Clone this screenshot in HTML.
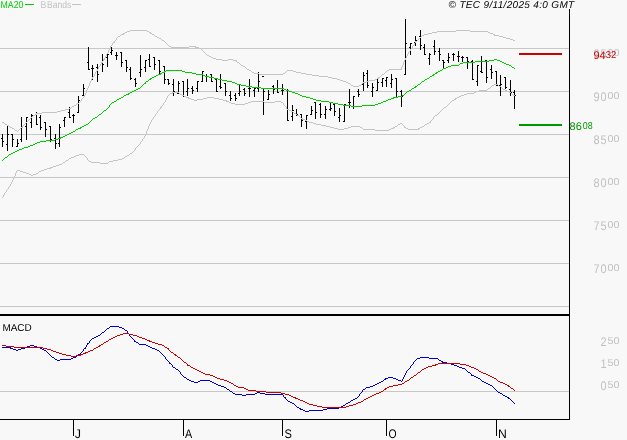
<!DOCTYPE html>
<html><head><meta charset="utf-8"><title>Chart</title>
<style>
html,body{margin:0;padding:0;background:#f8f8f8;}
body{width:627px;height:440px;overflow:hidden;}
svg{display:block;font-family:"Liberation Sans",sans-serif;text-rendering:geometricPrecision;}
</style></head><body>
<svg width="627" height="440" viewBox="0 0 627 440" shape-rendering="crispEdges">
<rect width="627" height="440" fill="#f8f8f8"/>

<rect x="0" y="48" width="569" height="1" fill="#c8c8c8"/>
<rect x="0" y="91" width="569" height="1" fill="#c8c8c8"/>
<rect x="0" y="134" width="569" height="1" fill="#c8c8c8"/>
<rect x="0" y="177" width="569" height="1" fill="#c8c8c8"/>
<rect x="0" y="220" width="569" height="1" fill="#c8c8c8"/>
<rect x="0" y="263" width="569" height="1" fill="#c8c8c8"/>
<rect x="0" y="306" width="569" height="1" fill="#c8c8c8"/>
<rect x="0" y="391" width="569" height="1" fill="#c8c8c8"/>
<path fill="#000" d="M2 134v13h1v-13zM1 138h1v1h-1zM3 141h1v1h-1zM7 125v26h1v-26zM6 144h1v1h-1zM8 134h1v1h-1zM12 134v13h1v-13zM11 134h1v1h-1zM13 139h1v1h-1zM17 139v8h1v-8zM16 146h1v1h-1zM18 143h1v1h-1zM21 117v25h1v-25zM20 139h1v1h-1zM22 127h1v1h-1zM26 117v23h1v-23zM25 126h1v1h-1zM27 117h1v1h-1zM31 114v14h1v-14zM30 122h1v1h-1zM32 115h1v1h-1zM36 112v13h1v-13zM35 114h1v1h-1zM37 124h1v1h-1zM40 115v15h1v-15zM39 117h1v1h-1zM41 127h1v1h-1zM45 122v15h1v-15zM44 122h1v1h-1zM46 129h1v1h-1zM50 126v16h1v-16zM49 126h1v1h-1zM51 139h1v1h-1zM55 134v15h1v-15zM54 138h1v1h-1zM56 143h1v1h-1zM59 124v23h1v-23zM58 143h1v1h-1zM60 127h1v1h-1zM64 117v10h1v-10zM63 120h1v1h-1zM65 117h1v1h-1zM69 107v11h1v-11zM68 112h1v1h-1zM70 117h1v1h-1zM73 114v9h1v-9zM72 115h1v1h-1zM74 115h1v1h-1zM78 96v17h1v-17zM77 112h1v1h-1zM79 100h1v1h-1zM83 84v12h1v-12zM82 95h1v1h-1zM84 88h1v1h-1zM88 47v23h1v-23zM87 62h1v1h-1zM89 69h1v1h-1zM92 65v15h1v-15zM91 68h1v1h-1zM93 68h1v1h-1zM97 64v18h1v-18zM96 67h1v1h-1zM98 74h1v1h-1zM102 54v18h1v-18zM101 63h1v1h-1zM103 64h1v1h-1zM107 54v13h1v-13zM106 57h1v1h-1zM108 54h1v1h-1zM111 47v8h1v-8zM110 52h1v1h-1zM112 50h1v1h-1zM116 52v8h1v-8zM115 55h1v1h-1zM117 55h1v1h-1zM121 52v15h1v-15zM120 52h1v1h-1zM122 62h1v1h-1zM126 60v12h1v-12zM125 60h1v1h-1zM127 67h1v1h-1zM130 67v13h1v-13zM129 69h1v1h-1zM131 78h1v1h-1zM135 78v9h1v-9zM134 79h1v1h-1zM136 83h1v1h-1zM140 55v22h1v-22zM139 72h1v1h-1zM141 69h1v1h-1zM145 60v12h1v-12zM144 67h1v1h-1zM146 60h1v1h-1zM149 54v13h1v-13zM148 59h1v1h-1zM150 66h1v1h-1zM154 57v13h1v-13zM153 57h1v1h-1zM155 64h1v1h-1zM159 60v14h1v-14zM158 60h1v1h-1zM160 71h1v1h-1zM164 66v18h1v-18zM163 66h1v1h-1zM165 79h1v1h-1zM168 79v6h1v-6zM167 79h1v1h-1zM169 83h1v1h-1zM173 79v17h1v-17zM172 84h1v1h-1zM174 91h1v1h-1zM178 81v13h1v-13zM177 93h1v1h-1zM179 83h1v1h-1zM183 81v16h1v-16zM182 81h1v1h-1zM184 96h1v1h-1zM187 79v17h1v-17zM186 91h1v1h-1zM188 88h1v1h-1zM192 86v8h1v-8zM191 88h1v1h-1zM193 90h1v1h-1zM197 81v11h1v-11zM196 88h1v1h-1zM198 81h1v1h-1zM202 71v11h1v-11zM201 81h1v1h-1zM203 71h1v1h-1zM206 74v8h1v-8zM205 76h1v1h-1zM207 76h1v1h-1zM211 74v8h1v-8zM210 74h1v1h-1zM212 81h1v1h-1zM216 79v13h1v-13zM215 79h1v1h-1zM217 91h1v1h-1zM220 74v15h1v-15zM219 86h1v1h-1zM221 87h1v1h-1zM225 83v13h1v-13zM224 83h1v1h-1zM226 91h1v1h-1zM230 91v10h1v-10zM229 95h1v1h-1zM231 98h1v1h-1zM235 93v8h1v-8zM234 95h1v1h-1zM236 98h1v1h-1zM239 85v11h1v-11zM238 93h1v1h-1zM240 91h1v1h-1zM244 88v8h1v-8zM243 89h1v1h-1zM245 93h1v1h-1zM249 79v18h1v-18zM248 88h1v1h-1zM250 88h1v1h-1zM254 88v9h1v-9zM253 90h1v1h-1zM255 88h1v1h-1zM258 72v20h1v-20zM257 88h1v1h-1zM259 81h1v1h-1zM263 89v26h1v-26zM262 76h2v1h-2zM264 91h1v1h-1zM268 90v10h1v-10zM267 99h1v1h-1zM269 94h1v1h-1zM273 85v9h1v-9zM272 86h1v1h-1zM274 89h1v1h-1zM277 80v13h1v-13zM276 88h1v1h-1zM278 92h1v1h-1zM282 84v11h1v-11zM281 90h1v1h-1zM283 90h1v1h-1zM287 89v32h1v-32zM286 90h1v1h-1zM288 120h1v1h-1zM292 105v16h1v-16zM291 116h1v1h-1zM293 110h1v1h-1zM296 109v7h1v-7zM295 113h1v1h-1zM297 114h1v1h-1zM301 114v13h1v-13zM300 114h1v1h-1zM302 120h1v1h-1zM306 115v14h1v-14zM305 121h1v1h-1zM307 115h1v1h-1zM311 106v9h1v-9zM310 114h1v1h-1zM312 110h1v1h-1zM315 102v17h1v-17zM314 102h1v1h-1zM316 112h1v1h-1zM320 103v15h1v-15zM319 104h1v1h-1zM321 114h1v1h-1zM325 106v13h1v-13zM324 114h1v1h-1zM326 109h1v1h-1zM330 102v9h1v-9zM329 109h1v1h-1zM331 108h1v1h-1zM334 104v12h1v-12zM333 104h1v1h-1zM335 111h1v1h-1zM339 108v14h1v-14zM338 117h1v1h-1zM340 115h1v1h-1zM344 104v18h1v-18zM343 121h1v1h-1zM345 104h1v1h-1zM349 89v19h1v-19zM348 102h1v1h-1zM350 102h1v1h-1zM353 96v13h1v-13zM352 106h1v1h-1zM354 96h1v1h-1zM358 89v8h1v-8zM357 91h1v1h-1zM359 94h1v1h-1zM363 72v19h1v-19zM362 84h1v1h-1zM364 75h1v1h-1zM367 70v18h1v-18zM366 73h1v1h-1zM368 85h1v1h-1zM372 83v14h1v-14zM371 91h1v1h-1zM373 87h1v1h-1zM377 78v13h1v-13zM376 90h1v1h-1zM378 82h1v1h-1zM382 78v9h1v-9zM381 82h1v1h-1zM383 78h1v1h-1zM386 77v10h1v-10zM385 80h1v1h-1zM387 77h1v1h-1zM391 74v14h1v-14zM390 83h1v1h-1zM392 79h1v1h-1zM396 78v19h1v-19zM395 78h1v1h-1zM397 91h1v1h-1zM401 90v17h1v-17zM400 91h1v1h-1zM402 96h1v1h-1zM405 19v56h1v-56zM404 74h1v1h-1zM406 43h1v1h-1zM410 43v12h1v-12zM409 47h1v1h-1zM411 43h1v1h-1zM415 36v10h1v-10zM414 42h1v1h-1zM416 40h1v1h-1zM420 30v20h1v-20zM419 36h1v1h-1zM421 45h1v1h-1zM424 44v11h1v-11zM423 47h1v1h-1zM425 54h1v1h-1zM429 53v12h1v-12zM428 58h1v1h-1zM430 54h1v1h-1zM434 40v15h1v-15zM433 46h1v1h-1zM435 51h1v1h-1zM439 48v13h1v-13zM438 51h1v1h-1zM440 54h1v1h-1zM443 60v9h1v-9zM442 60h1v1h-1zM444 62h1v1h-1zM448 53v10h1v-10zM447 60h1v1h-1zM449 57h1v1h-1zM453 53v8h1v-8zM452 54h1v1h-1zM454 54h1v1h-1zM458 51v11h1v-11zM457 56h1v1h-1zM459 56h1v1h-1zM462 56v6h1v-6zM461 57h1v1h-1zM463 57h1v1h-1zM467 57v12h1v-12zM466 57h1v1h-1zM468 61h1v1h-1zM472 60v20h1v-20zM471 61h1v1h-1zM473 79h1v1h-1zM477 65v21h1v-21zM476 81h1v1h-1zM478 65h1v1h-1zM481 56v17h1v-17zM480 71h1v1h-1zM482 72h1v1h-1zM486 60v23h1v-23zM485 60h1v1h-1zM487 77h1v1h-1zM491 65v14h1v-14zM490 69h1v1h-1zM492 72h1v1h-1zM496 71v15h1v-15zM495 71h1v1h-1zM497 85h1v1h-1zM500 75v21h1v-21zM499 85h1v1h-1zM501 84h1v1h-1zM505 77v12h1v-12zM504 77h1v1h-1zM506 87h1v1h-1zM510 80v16h1v-16zM509 89h1v1h-1zM511 92h1v1h-1zM514 90v19h1v-19zM513 92h1v1h-1zM515 95h1v1h-1z"/>
<path fill="#c4c4c4" d="M130 30h17v1h-17zM456 30h14v1h-14zM127 31h3v1h-3zM147 31h2v1h-2zM437 31h19v1h-19zM470 31h18v1h-18zM125 32h2v1h-2zM149 32h2v1h-2zM432 32h5v1h-5zM488 32h2v1h-2zM123 33h2v1h-2zM150 33h2v1h-2zM428 33h4v1h-4zM490 33h3v1h-3zM121 34h3v1h-3zM152 34h2v1h-2zM424 34h4v1h-4zM493 34h2v1h-2zM120 35h1v1h-1zM154 35h1v1h-1zM422 35h2v1h-2zM494 35h5v1h-5zM118 36h2v1h-2zM155 36h2v1h-2zM421 36h1v1h-1zM499 36h4v1h-4zM117 37h1v1h-1zM157 37h2v1h-2zM420 37h1v1h-1zM503 37h3v1h-3zM116 38h1v1h-1zM159 38h2v1h-2zM419 38h1v1h-1zM506 38h4v1h-4zM116 39h1v1h-1zM161 39h1v1h-1zM418 39h1v1h-1zM510 39h3v1h-3zM115 40h1v1h-1zM162 40h2v1h-2zM417 40h1v1h-1zM513 40h2v1h-2zM114 41h1v1h-1zM164 41h1v1h-1zM415 41h2v1h-2zM113 42h2v1h-2zM165 42h1v1h-1zM415 42h1v1h-1zM112 43h1v1h-1zM166 43h1v1h-1zM414 43h1v1h-1zM112 44h1v1h-1zM167 44h1v1h-1zM414 44h1v1h-1zM111 45h1v1h-1zM168 45h1v1h-1zM413 45h1v1h-1zM110 46h1v1h-1zM169 46h2v1h-2zM189 46h7v1h-7zM412 46h1v1h-1zM110 47h1v1h-1zM171 47h18v1h-18zM195 47h4v1h-4zM412 47h1v1h-1zM109 48h1v1h-1zM181 48h1v1h-1zM199 48h2v1h-2zM411 48h1v1h-1zM109 49h1v1h-1zM201 49h1v1h-1zM410 49h1v1h-1zM108 50h1v1h-1zM202 50h1v1h-1zM410 50h1v1h-1zM108 51h1v1h-1zM203 51h1v1h-1zM409 51h1v1h-1zM108 52h1v1h-1zM204 52h1v1h-1zM408 52h1v1h-1zM107 53h1v1h-1zM205 53h1v1h-1zM408 53h1v1h-1zM106 54h1v1h-1zM206 54h1v1h-1zM407 54h1v1h-1zM106 55h1v1h-1zM207 55h2v1h-2zM407 55h1v1h-1zM105 56h1v1h-1zM209 56h2v1h-2zM406 56h1v1h-1zM105 57h1v1h-1zM211 57h2v1h-2zM406 57h1v1h-1zM104 58h1v1h-1zM213 58h3v1h-3zM405 58h1v1h-1zM103 59h2v1h-2zM216 59h6v1h-6zM228 59h5v1h-5zM405 59h1v1h-1zM103 60h1v1h-1zM222 60h6v1h-6zM233 60h4v1h-4zM404 60h1v1h-1zM102 61h1v1h-1zM236 61h1v1h-1zM404 61h1v1h-1zM101 62h2v1h-2zM237 62h2v1h-2zM403 62h1v1h-1zM101 63h1v1h-1zM239 63h1v1h-1zM403 63h1v1h-1zM100 64h1v1h-1zM240 64h1v1h-1zM403 64h1v1h-1zM100 65h1v1h-1zM241 65h2v1h-2zM402 65h1v1h-1zM99 66h1v1h-1zM243 66h2v1h-2zM402 66h1v1h-1zM98 67h1v1h-1zM245 67h1v1h-1zM401 67h1v1h-1zM98 68h1v1h-1zM246 68h1v1h-1zM401 68h1v1h-1zM97 69h1v1h-1zM247 69h2v1h-2zM389 69h13v1h-13zM97 70h1v1h-1zM249 70h2v1h-2zM287 70h6v1h-6zM387 70h2v1h-2zM96 71h1v1h-1zM251 71h1v1h-1zM286 71h1v1h-1zM293 71h3v1h-3zM386 71h1v1h-1zM95 72h1v1h-1zM252 72h2v1h-2zM285 72h1v1h-1zM296 72h5v1h-5zM385 72h1v1h-1zM95 73h1v1h-1zM254 73h5v1h-5zM283 73h2v1h-2zM301 73h5v1h-5zM384 73h1v1h-1zM94 74h1v1h-1zM259 74h24v1h-24zM306 74h6v1h-6zM382 74h2v1h-2zM94 75h1v1h-1zM312 75h7v1h-7zM381 75h1v1h-1zM93 76h1v1h-1zM319 76h9v1h-9zM380 76h1v1h-1zM92 77h1v1h-1zM328 77h4v1h-4zM378 77h2v1h-2zM92 78h1v1h-1zM332 78h5v1h-5zM377 78h2v1h-2zM91 79h1v1h-1zM337 79h3v1h-3zM375 79h2v1h-2zM91 80h1v1h-1zM340 80h3v1h-3zM369 80h6v1h-6zM90 81h1v1h-1zM343 81h3v1h-3zM366 81h3v1h-3zM90 82h1v1h-1zM346 82h2v1h-2zM363 82h3v1h-3zM89 83h1v1h-1zM348 83h2v1h-2zM362 83h1v1h-1zM89 84h1v1h-1zM350 84h1v1h-1zM361 84h1v1h-1zM89 85h1v1h-1zM351 85h2v1h-2zM359 85h2v1h-2zM88 86h1v1h-1zM353 86h6v1h-6zM88 87h1v1h-1zM87 88h1v1h-1zM87 89h1v1h-1zM86 90h1v1h-1zM86 91h1v1h-1zM86 92h1v1h-1zM85 93h1v1h-1zM85 94h1v1h-1zM84 95h1v1h-1zM84 96h1v1h-1zM83 97h1v1h-1zM82 98h1v1h-1zM81 99h1v1h-1zM81 100h1v1h-1zM80 101h1v1h-1zM79 102h1v1h-1zM77 103h2v1h-2zM76 104h1v1h-1zM74 105h2v1h-2zM72 106h2v1h-2zM71 107h1v1h-1zM69 108h2v1h-2zM65 109h4v1h-4zM61 110h4v1h-4zM57 111h4v1h-4zM42 112h15v1h-15zM36 113h6v1h-6zM35 114h2v1h-2zM33 115h2v1h-2zM32 116h1v1h-1zM31 117h1v1h-1zM30 118h1v1h-1zM29 119h1v1h-1zM28 120h1v1h-1zM27 121h1v1h-1zM2 122h2v1h-2zM26 122h1v1h-1zM4 123h1v1h-1zM25 123h1v1h-1zM5 124h2v1h-2zM24 124h1v1h-1zM7 125h2v1h-2zM23 125h1v1h-1zM9 126h1v1h-1zM22 126h1v1h-1zM10 127h2v1h-2zM21 127h2v1h-2zM12 128h2v1h-2zM20 128h1v1h-1zM14 129h1v1h-1zM19 129h1v1h-1zM15 130h2v1h-2zM18 130h1v1h-1zM17 131h1v1h-1z"/>
<path fill="#c4c4c4" d="M494 84h4v1h-4zM492 85h2v1h-2zM498 85h1v1h-1zM491 86h1v1h-1zM499 86h2v1h-2zM490 87h1v1h-1zM501 87h1v1h-1zM488 88h2v1h-2zM502 88h1v1h-1zM487 89h1v1h-1zM503 89h2v1h-2zM479 90h8v1h-8zM505 90h2v1h-2zM476 91h3v1h-3zM507 91h2v1h-2zM172 92h7v1h-7zM474 92h2v1h-2zM509 92h2v1h-2zM170 93h3v1h-3zM179 93h1v1h-1zM467 93h7v1h-7zM511 93h1v1h-1zM169 94h1v1h-1zM180 94h2v1h-2zM464 94h3v1h-3zM512 94h1v1h-1zM168 95h1v1h-1zM182 95h2v1h-2zM461 95h3v1h-3zM513 95h2v1h-2zM167 96h1v1h-1zM184 96h2v1h-2zM459 96h2v1h-2zM167 97h1v1h-1zM186 97h3v1h-3zM207 97h7v1h-7zM457 97h2v1h-2zM166 98h1v1h-1zM188 98h3v1h-3zM203 98h4v1h-4zM214 98h5v1h-5zM455 98h2v1h-2zM166 99h1v1h-1zM191 99h3v1h-3zM197 99h6v1h-6zM219 99h4v1h-4zM454 99h2v1h-2zM165 100h1v1h-1zM194 100h3v1h-3zM223 100h4v1h-4zM452 100h2v1h-2zM165 101h1v1h-1zM226 101h3v1h-3zM251 101h13v1h-13zM275 101h6v1h-6zM451 101h1v1h-1zM164 102h1v1h-1zM229 102h2v1h-2zM248 102h3v1h-3zM264 102h11v1h-11zM281 102h2v1h-2zM450 102h1v1h-1zM163 103h1v1h-1zM231 103h4v1h-4zM245 103h3v1h-3zM283 103h1v1h-1zM449 103h1v1h-1zM163 104h1v1h-1zM235 104h10v1h-10zM283 104h1v1h-1zM448 104h1v1h-1zM162 105h1v1h-1zM284 105h1v1h-1zM447 105h1v1h-1zM161 106h1v1h-1zM285 106h1v1h-1zM446 106h1v1h-1zM160 107h2v1h-2zM286 107h1v1h-1zM444 107h2v1h-2zM160 108h1v1h-1zM286 108h1v1h-1zM443 108h1v1h-1zM159 109h1v1h-1zM287 109h2v1h-2zM442 109h1v1h-1zM158 110h1v1h-1zM289 110h2v1h-2zM441 110h1v1h-1zM157 111h1v1h-1zM291 111h2v1h-2zM440 111h1v1h-1zM157 112h1v1h-1zM293 112h1v1h-1zM439 112h1v1h-1zM156 113h1v1h-1zM294 113h2v1h-2zM438 113h1v1h-1zM155 114h1v1h-1zM296 114h1v1h-1zM437 114h1v1h-1zM155 115h1v1h-1zM297 115h2v1h-2zM435 115h2v1h-2zM154 116h1v1h-1zM299 116h1v1h-1zM434 116h1v1h-1zM153 117h1v1h-1zM300 117h1v1h-1zM433 117h1v1h-1zM153 118h1v1h-1zM301 118h2v1h-2zM433 118h1v1h-1zM152 119h1v1h-1zM302 119h3v1h-3zM432 119h1v1h-1zM151 120h1v1h-1zM305 120h2v1h-2zM431 120h1v1h-1zM151 121h1v1h-1zM307 121h2v1h-2zM430 121h1v1h-1zM150 122h1v1h-1zM309 122h4v1h-4zM429 122h2v1h-2zM150 123h1v1h-1zM313 123h3v1h-3zM400 123h2v1h-2zM427 123h2v1h-2zM149 124h1v1h-1zM316 124h5v1h-5zM398 124h2v1h-2zM402 124h1v1h-1zM425 124h2v1h-2zM149 125h1v1h-1zM321 125h5v1h-5zM397 125h1v1h-1zM403 125h1v1h-1zM424 125h1v1h-1zM148 126h1v1h-1zM326 126h4v1h-4zM351 126h9v1h-9zM395 126h2v1h-2zM404 126h1v1h-1zM422 126h2v1h-2zM148 127h1v1h-1zM330 127h4v1h-4zM348 127h3v1h-3zM360 127h2v1h-2zM393 127h2v1h-2zM404 127h2v1h-2zM420 127h2v1h-2zM148 128h1v1h-1zM334 128h4v1h-4zM344 128h4v1h-4zM362 128h1v1h-1zM391 128h3v1h-3zM406 128h2v1h-2zM418 128h2v1h-2zM147 129h1v1h-1zM338 129h6v1h-6zM363 129h12v1h-12zM389 129h2v1h-2zM408 129h11v1h-11zM147 130h1v1h-1zM375 130h14v1h-14zM146 131h1v1h-1zM146 132h1v1h-1zM146 133h1v1h-1zM145 134h1v1h-1zM145 135h1v1h-1zM144 136h1v1h-1zM144 137h1v1h-1zM143 138h1v1h-1zM142 139h1v1h-1zM142 140h1v1h-1zM141 141h1v1h-1zM140 142h1v1h-1zM140 143h1v1h-1zM139 144h1v1h-1zM138 145h1v1h-1zM137 146h1v1h-1zM136 147h1v1h-1zM135 148h1v1h-1zM135 149h1v1h-1zM134 150h1v1h-1zM133 151h1v1h-1zM132 152h1v1h-1zM130 153h2v1h-2zM79 154h5v1h-5zM129 154h1v1h-1zM76 155h3v1h-3zM84 155h1v1h-1zM127 155h2v1h-2zM74 156h2v1h-2zM85 156h1v1h-1zM125 156h2v1h-2zM71 157h3v1h-3zM86 157h1v1h-1zM124 157h1v1h-1zM69 158h2v1h-2zM87 158h1v1h-1zM122 158h2v1h-2zM68 159h1v1h-1zM87 159h1v1h-1zM118 159h4v1h-4zM66 160h2v1h-2zM88 160h1v1h-1zM113 160h5v1h-5zM65 161h1v1h-1zM89 161h2v1h-2zM109 161h4v1h-4zM63 162h2v1h-2zM91 162h9v1h-9zM108 162h1v1h-1zM62 163h1v1h-1zM100 163h8v1h-8zM59 164h3v1h-3zM56 165h3v1h-3zM53 166h3v1h-3zM50 167h3v1h-3zM47 168h4v1h-4zM44 169h3v1h-3zM17 170h3v1h-3zM41 170h3v1h-3zM16 171h1v1h-1zM20 171h3v1h-3zM39 171h2v1h-2zM16 172h1v1h-1zM23 172h3v1h-3zM38 172h1v1h-1zM15 173h1v1h-1zM26 173h3v1h-3zM36 173h2v1h-2zM15 174h1v1h-1zM29 174h2v1h-2zM33 174h3v1h-3zM15 175h1v1h-1zM31 175h2v1h-2zM14 176h1v1h-1zM14 177h1v1h-1zM13 178h1v1h-1zM13 179h1v1h-1zM12 180h1v1h-1zM12 181h1v1h-1zM11 182h1v1h-1zM11 183h1v1h-1zM10 184h1v1h-1zM10 185h1v1h-1zM9 186h1v1h-1zM8 187h1v1h-1zM8 188h1v1h-1zM7 189h1v1h-1zM6 190h1v1h-1zM6 191h1v1h-1zM5 192h1v1h-1zM4 193h1v1h-1zM4 194h1v1h-1zM3 195h1v1h-1zM3 196h1v1h-1zM2 197h1v1h-1z"/>
<path fill="#00cc00" d="M494 59h3v1h-3zM489 60h5v1h-5zM497 60h3v1h-3zM475 61h14v1h-14zM500 61h2v1h-2zM463 62h12v1h-12zM502 62h2v1h-2zM460 63h3v1h-3zM504 63h2v1h-2zM459 64h1v1h-1zM506 64h3v1h-3zM451 65h8v1h-8zM509 65h2v1h-2zM448 66h3v1h-3zM511 66h1v1h-1zM446 67h2v1h-2zM512 67h2v1h-2zM443 68h3v1h-3zM514 68h1v1h-1zM442 69h1v1h-1zM166 70h16v1h-16zM440 70h2v1h-2zM164 71h2v1h-2zM182 71h3v1h-3zM438 71h2v1h-2zM162 72h3v1h-3zM185 72h7v1h-7zM436 72h2v1h-2zM160 73h2v1h-2zM192 73h4v1h-4zM435 73h2v1h-2zM158 74h3v1h-3zM196 74h7v1h-7zM433 74h2v1h-2zM156 75h2v1h-2zM203 75h2v1h-2zM432 75h2v1h-2zM154 76h2v1h-2zM205 76h4v1h-4zM430 76h2v1h-2zM152 77h2v1h-2zM209 77h5v1h-5zM429 77h1v1h-1zM150 78h2v1h-2zM214 78h4v1h-4zM427 78h2v1h-2zM149 79h2v1h-2zM218 79h4v1h-4zM425 79h2v1h-2zM148 80h1v1h-1zM222 80h5v1h-5zM424 80h1v1h-1zM146 81h2v1h-2zM227 81h5v1h-5zM422 81h2v1h-2zM145 82h1v1h-1zM232 82h3v1h-3zM421 82h1v1h-1zM144 83h2v1h-2zM235 83h2v1h-2zM420 83h1v1h-1zM143 84h1v1h-1zM237 84h4v1h-4zM418 84h2v1h-2zM142 85h1v1h-1zM241 85h5v1h-5zM417 85h1v1h-1zM141 86h1v1h-1zM246 86h6v1h-6zM415 86h2v1h-2zM140 87h1v1h-1zM252 87h9v1h-9zM414 87h2v1h-2zM138 88h2v1h-2zM261 88h23v1h-23zM412 88h2v1h-2zM136 89h2v1h-2zM284 89h2v1h-2zM411 89h1v1h-1zM134 90h2v1h-2zM286 90h3v1h-3zM409 90h2v1h-2zM132 91h2v1h-2zM289 91h3v1h-3zM407 91h2v1h-2zM130 92h2v1h-2zM292 92h3v1h-3zM406 92h1v1h-1zM128 93h2v1h-2zM295 93h3v1h-3zM405 93h1v1h-1zM126 94h3v1h-3zM298 94h2v1h-2zM404 94h1v1h-1zM124 95h2v1h-2zM300 95h2v1h-2zM402 95h2v1h-2zM123 96h1v1h-1zM302 96h4v1h-4zM398 96h4v1h-4zM121 97h2v1h-2zM306 97h4v1h-4zM393 97h5v1h-5zM119 98h2v1h-2zM310 98h3v1h-3zM391 98h3v1h-3zM117 99h2v1h-2zM313 99h3v1h-3zM388 99h3v1h-3zM116 100h1v1h-1zM316 100h5v1h-5zM386 100h2v1h-2zM114 101h2v1h-2zM321 101h8v1h-8zM383 101h3v1h-3zM112 102h2v1h-2zM329 102h4v1h-4zM381 102h2v1h-2zM111 103h1v1h-1zM333 103h5v1h-5zM378 103h3v1h-3zM110 104h1v1h-1zM338 104h5v1h-5zM375 104h3v1h-3zM109 105h1v1h-1zM343 105h8v1h-8zM362 105h13v1h-13zM109 106h1v1h-1zM351 106h11v1h-11zM108 107h1v1h-1zM107 108h1v1h-1zM106 109h1v1h-1zM104 110h2v1h-2zM103 111h1v1h-1zM102 112h1v1h-1zM101 113h1v1h-1zM99 114h2v1h-2zM98 115h1v1h-1zM97 116h1v1h-1zM95 117h2v1h-2zM93 118h2v1h-2zM92 119h1v1h-1zM91 120h1v1h-1zM90 121h1v1h-1zM89 122h1v1h-1zM88 123h1v1h-1zM86 124h2v1h-2zM84 125h2v1h-2zM82 126h2v1h-2zM80 127h2v1h-2zM78 128h3v1h-3zM76 129h2v1h-2zM75 130h1v1h-1zM73 131h2v1h-2zM71 132h2v1h-2zM69 133h2v1h-2zM67 134h2v1h-2zM65 135h2v1h-2zM63 136h2v1h-2zM60 137h3v1h-3zM58 138h3v1h-3zM55 139h3v1h-3zM46 140h9v1h-9zM40 141h6v1h-6zM37 142h3v1h-3zM35 143h2v1h-2zM33 144h2v1h-2zM30 145h3v1h-3zM28 146h2v1h-2zM24 147h4v1h-4zM22 148h2v1h-2zM19 149h3v1h-3zM17 150h2v1h-2zM15 151h2v1h-2zM13 152h2v1h-2zM11 153h2v1h-2zM9 154h2v1h-2zM8 155h1v1h-1zM7 156h1v1h-1zM5 157h2v1h-2zM4 158h1v1h-1zM3 159h1v1h-1zM2 160h1v1h-1z"/>
<rect x="519" y="53" width="43" height="2" fill="#cc0000"/>
<rect x="519" y="124" width="43" height="2" fill="#009900"/>
<path fill="#0000cc" d="M110 326h9v1h-9zM109 327h1v1h-1zM119 327h3v1h-3zM107 328h2v1h-2zM122 328h2v1h-2zM106 329h1v1h-1zM124 329h1v1h-1zM105 330h1v1h-1zM125 330h2v1h-2zM104 331h1v1h-1zM127 331h1v1h-1zM102 332h2v1h-2zM127 332h1v1h-1zM101 333h1v1h-1zM128 333h1v1h-1zM100 334h1v1h-1zM129 334h1v1h-1zM98 335h2v1h-2zM129 335h1v1h-1zM96 336h2v1h-2zM130 336h1v1h-1zM94 337h2v1h-2zM131 337h1v1h-1zM92 338h2v1h-2zM132 338h1v1h-1zM91 339h1v1h-1zM133 339h1v1h-1zM90 340h1v1h-1zM134 340h1v1h-1zM89 341h1v1h-1zM134 341h2v1h-2zM89 342h1v1h-1zM136 342h2v1h-2zM87 343h2v1h-2zM138 343h1v1h-1zM87 344h1v1h-1zM139 344h7v1h-7zM30 345h4v1h-4zM86 345h1v1h-1zM146 345h2v1h-2zM27 346h3v1h-3zM34 346h3v1h-3zM86 346h1v1h-1zM148 346h2v1h-2zM2 347h9v1h-9zM25 347h2v1h-2zM37 347h3v1h-3zM85 347h1v1h-1zM150 347h2v1h-2zM10 348h3v1h-3zM21 348h4v1h-4zM40 348h2v1h-2zM84 348h2v1h-2zM152 348h3v1h-3zM13 349h3v1h-3zM18 349h3v1h-3zM42 349h2v1h-2zM83 349h1v1h-1zM155 349h2v1h-2zM16 350h2v1h-2zM44 350h2v1h-2zM83 350h1v1h-1zM157 350h2v1h-2zM46 351h1v1h-1zM82 351h1v1h-1zM159 351h1v1h-1zM47 352h1v1h-1zM81 352h1v1h-1zM160 352h1v1h-1zM48 353h1v1h-1zM80 353h1v1h-1zM161 353h1v1h-1zM49 354h1v1h-1zM78 354h2v1h-2zM162 354h1v1h-1zM50 355h1v1h-1zM77 355h1v1h-1zM163 355h1v1h-1zM51 356h1v1h-1zM76 356h1v1h-1zM164 356h1v1h-1zM52 357h2v1h-2zM73 357h3v1h-3zM165 357h1v1h-1zM420 357h9v1h-9zM54 358h1v1h-1zM71 358h2v1h-2zM165 358h1v1h-1zM417 358h3v1h-3zM429 358h9v1h-9zM55 359h2v1h-2zM60 359h11v1h-11zM166 359h1v1h-1zM416 359h1v1h-1zM438 359h1v1h-1zM57 360h3v1h-3zM167 360h1v1h-1zM415 360h1v1h-1zM439 360h2v1h-2zM168 361h1v1h-1zM414 361h1v1h-1zM441 361h2v1h-2zM169 362h1v1h-1zM413 362h1v1h-1zM442 362h5v1h-5zM169 363h2v1h-2zM413 363h1v1h-1zM447 363h4v1h-4zM171 364h1v1h-1zM412 364h1v1h-1zM451 364h3v1h-3zM172 365h1v1h-1zM411 365h1v1h-1zM454 365h3v1h-3zM172 366h1v1h-1zM410 366h1v1h-1zM457 366h2v1h-2zM173 367h2v1h-2zM410 367h1v1h-1zM459 367h3v1h-3zM175 368h1v1h-1zM409 368h1v1h-1zM462 368h3v1h-3zM176 369h2v1h-2zM408 369h1v1h-1zM465 369h1v1h-1zM178 370h1v1h-1zM407 370h1v1h-1zM466 370h1v1h-1zM179 371h1v1h-1zM406 371h1v1h-1zM467 371h1v1h-1zM180 372h1v1h-1zM406 372h1v1h-1zM468 372h2v1h-2zM180 373h1v1h-1zM405 373h1v1h-1zM470 373h1v1h-1zM181 374h1v1h-1zM405 374h1v1h-1zM471 374h1v1h-1zM182 375h1v1h-1zM404 375h1v1h-1zM471 375h3v1h-3zM183 376h1v1h-1zM404 376h1v1h-1zM474 376h2v1h-2zM184 377h2v1h-2zM388 377h5v1h-5zM403 377h1v1h-1zM476 377h2v1h-2zM186 378h1v1h-1zM385 378h3v1h-3zM393 378h3v1h-3zM403 378h1v1h-1zM478 378h2v1h-2zM187 379h2v1h-2zM384 379h2v1h-2zM396 379h2v1h-2zM402 379h1v1h-1zM480 379h1v1h-1zM189 380h2v1h-2zM200 380h10v1h-10zM383 380h1v1h-1zM398 380h3v1h-3zM402 380h1v1h-1zM481 380h1v1h-1zM191 381h3v1h-3zM198 381h2v1h-2zM210 381h2v1h-2zM381 381h2v1h-2zM401 381h1v1h-1zM482 381h2v1h-2zM194 382h4v1h-4zM212 382h2v1h-2zM379 382h2v1h-2zM484 382h2v1h-2zM214 383h2v1h-2zM377 383h2v1h-2zM486 383h2v1h-2zM216 384h2v1h-2zM375 384h2v1h-2zM488 384h2v1h-2zM218 385h3v1h-3zM373 385h2v1h-2zM490 385h2v1h-2zM221 386h3v1h-3zM370 386h3v1h-3zM492 386h1v1h-1zM224 387h2v1h-2zM366 387h4v1h-4zM493 387h1v1h-1zM226 388h1v1h-1zM365 388h1v1h-1zM494 388h1v1h-1zM227 389h2v1h-2zM363 389h2v1h-2zM495 389h1v1h-1zM229 390h1v1h-1zM362 390h1v1h-1zM496 390h1v1h-1zM230 391h2v1h-2zM362 391h1v1h-1zM497 391h1v1h-1zM232 392h1v1h-1zM257 392h3v1h-3zM361 392h1v1h-1zM498 392h2v1h-2zM233 393h2v1h-2zM255 393h2v1h-2zM260 393h5v1h-5zM360 393h1v1h-1zM500 393h2v1h-2zM235 394h7v1h-7zM246 394h9v1h-9zM265 394h18v1h-18zM359 394h1v1h-1zM502 394h1v1h-1zM242 395h4v1h-4zM283 395h1v1h-1zM359 395h1v1h-1zM503 395h2v1h-2zM283 396h1v1h-1zM358 396h1v1h-1zM505 396h2v1h-2zM284 397h2v1h-2zM357 397h1v1h-1zM507 397h2v1h-2zM285 398h1v1h-1zM355 398h2v1h-2zM508 398h2v1h-2zM286 399h1v1h-1zM353 399h2v1h-2zM510 399h1v1h-1zM287 400h1v1h-1zM351 400h2v1h-2zM511 400h1v1h-1zM288 401h2v1h-2zM350 401h1v1h-1zM512 401h1v1h-1zM290 402h2v1h-2zM348 402h2v1h-2zM513 402h1v1h-1zM292 403h2v1h-2zM346 403h2v1h-2zM514 403h1v1h-1zM294 404h1v1h-1zM345 404h1v1h-1zM295 405h1v1h-1zM343 405h2v1h-2zM296 406h1v1h-1zM341 406h2v1h-2zM297 407h2v1h-2zM339 407h2v1h-2zM299 408h2v1h-2zM327 408h12v1h-12zM300 409h3v1h-3zM323 409h4v1h-4zM303 410h2v1h-2zM309 410h14v1h-14zM305 411h4v1h-4z"/>
<path fill="#cc0000" d="M123 333h6v1h-6zM120 334h3v1h-3zM129 334h4v1h-4zM117 335h3v1h-3zM133 335h4v1h-4zM115 336h2v1h-2zM137 336h2v1h-2zM113 337h2v1h-2zM139 337h3v1h-3zM111 338h2v1h-2zM142 338h3v1h-3zM109 339h2v1h-2zM145 339h2v1h-2zM108 340h1v1h-1zM147 340h3v1h-3zM106 341h2v1h-2zM149 341h3v1h-3zM104 342h2v1h-2zM152 342h3v1h-3zM103 343h1v1h-1zM155 343h3v1h-3zM101 344h2v1h-2zM158 344h4v1h-4zM2 345h4v1h-4zM99 345h2v1h-2zM162 345h2v1h-2zM6 346h8v1h-8zM98 346h2v1h-2zM164 346h1v1h-1zM14 347h29v1h-29zM96 347h2v1h-2zM165 347h2v1h-2zM43 348h4v1h-4zM94 348h2v1h-2zM167 348h2v1h-2zM47 349h4v1h-4zM93 349h1v1h-1zM168 349h1v1h-1zM51 350h2v1h-2zM90 350h3v1h-3zM169 350h1v1h-1zM53 351h3v1h-3zM88 351h2v1h-2zM170 351h1v1h-1zM56 352h3v1h-3zM85 352h3v1h-3zM171 352h2v1h-2zM59 353h3v1h-3zM83 353h3v1h-3zM173 353h1v1h-1zM62 354h4v1h-4zM80 354h3v1h-3zM174 354h2v1h-2zM66 355h5v1h-5zM76 355h5v1h-5zM175 355h2v1h-2zM71 356h5v1h-5zM177 356h1v1h-1zM178 357h2v1h-2zM180 358h1v1h-1zM181 359h1v1h-1zM182 360h1v1h-1zM183 361h1v1h-1zM184 362h2v1h-2zM186 363h1v1h-1zM438 363h22v1h-22zM187 364h1v1h-1zM435 364h3v1h-3zM460 364h6v1h-6zM187 365h3v1h-3zM432 365h4v1h-4zM466 365h3v1h-3zM190 366h1v1h-1zM428 366h4v1h-4zM469 366h2v1h-2zM191 367h2v1h-2zM426 367h2v1h-2zM471 367h3v1h-3zM193 368h2v1h-2zM424 368h2v1h-2zM474 368h2v1h-2zM195 369h2v1h-2zM422 369h2v1h-2zM476 369h2v1h-2zM197 370h2v1h-2zM421 370h1v1h-1zM478 370h1v1h-1zM199 371h2v1h-2zM420 371h1v1h-1zM479 371h2v1h-2zM201 372h2v1h-2zM418 372h2v1h-2zM481 372h2v1h-2zM203 373h2v1h-2zM417 373h1v1h-1zM483 373h3v1h-3zM205 374h5v1h-5zM416 374h1v1h-1zM486 374h2v1h-2zM210 375h3v1h-3zM414 375h2v1h-2zM488 375h2v1h-2zM213 376h2v1h-2zM413 376h1v1h-1zM490 376h2v1h-2zM215 377h2v1h-2zM411 377h2v1h-2zM492 377h2v1h-2zM217 378h3v1h-3zM410 378h1v1h-1zM494 378h2v1h-2zM220 379h4v1h-4zM409 379h1v1h-1zM496 379h1v1h-1zM224 380h3v1h-3zM407 380h2v1h-2zM497 380h1v1h-1zM227 381h2v1h-2zM405 381h2v1h-2zM498 381h2v1h-2zM229 382h2v1h-2zM404 382h1v1h-1zM500 382h3v1h-3zM231 383h2v1h-2zM402 383h2v1h-2zM503 383h2v1h-2zM233 384h1v1h-1zM398 384h4v1h-4zM505 384h2v1h-2zM234 385h2v1h-2zM393 385h5v1h-5zM507 385h2v1h-2zM236 386h2v1h-2zM389 386h4v1h-4zM508 386h2v1h-2zM238 387h6v1h-6zM387 387h2v1h-2zM510 387h1v1h-1zM244 388h2v1h-2zM385 388h2v1h-2zM511 388h2v1h-2zM246 389h2v1h-2zM384 389h2v1h-2zM513 389h1v1h-1zM248 390h8v1h-8zM383 390h1v1h-1zM514 390h1v1h-1zM256 391h10v1h-10zM381 391h2v1h-2zM266 392h15v1h-15zM379 392h2v1h-2zM281 393h4v1h-4zM376 393h3v1h-3zM285 394h4v1h-4zM374 394h2v1h-2zM289 395h2v1h-2zM372 395h2v1h-2zM291 396h2v1h-2zM370 396h2v1h-2zM293 397h3v1h-3zM368 397h2v1h-2zM295 398h3v1h-3zM366 398h2v1h-2zM298 399h2v1h-2zM364 399h2v1h-2zM300 400h3v1h-3zM363 400h1v1h-1zM303 401h2v1h-2zM361 401h2v1h-2zM305 402h2v1h-2zM358 402h3v1h-3zM307 403h2v1h-2zM356 403h2v1h-2zM309 404h4v1h-4zM353 404h3v1h-3zM313 405h4v1h-4zM349 405h4v1h-4zM317 406h5v1h-5zM346 406h3v1h-3zM322 407h24v1h-24z"/>
<rect x="569" y="9" width="1" height="411" fill="#000"/>
<rect x="0" y="314" width="570" height="2" fill="#000"/>
<rect x="0" y="419" width="570" height="1" fill="#000"/>
<rect x="73" y="419" width="1" height="17" fill="#000"/>
<text x="74.8" y="438" font-size="12.5" textLength="6.2" lengthAdjust="spacingAndGlyphs" fill="#000">J</text>
<rect x="183" y="419" width="1" height="17" fill="#000"/>
<text x="185.0" y="438" font-size="12.5" textLength="7.2" lengthAdjust="spacingAndGlyphs" fill="#000">A</text>
<rect x="282" y="419" width="1" height="17" fill="#000"/>
<text x="284.4" y="438" font-size="12.5" textLength="7.4" lengthAdjust="spacingAndGlyphs" fill="#000">S</text>
<rect x="386" y="419" width="1" height="17" fill="#000"/>
<text x="388.4" y="438" font-size="12.5" textLength="8.1" lengthAdjust="spacingAndGlyphs" fill="#000">O</text>
<rect x="496" y="419" width="1" height="17" fill="#000"/>
<text x="498.1" y="438" font-size="12.5" textLength="8.8" lengthAdjust="spacingAndGlyphs" fill="#000">N</text>
<text fill="#c0c0c0"><tspan x="593.6" y="58.0" font-size="12.5" textLength="6.1" lengthAdjust="spacingAndGlyphs">9</tspan><tspan x="600.6" y="58.0" font-size="12.5" textLength="6.1" lengthAdjust="spacingAndGlyphs">5</tspan><tspan x="607.6" y="56.0" font-size="10" textLength="12.0" lengthAdjust="spacingAndGlyphs">00</tspan></text>
<text fill="#c0c0c0"><tspan x="593.6" y="101.0" font-size="12.5" textLength="6.1" lengthAdjust="spacingAndGlyphs">9</tspan><tspan x="600.6" y="101.0" font-size="12.5" textLength="6.1" lengthAdjust="spacingAndGlyphs">0</tspan><tspan x="607.6" y="99.0" font-size="10" textLength="12.0" lengthAdjust="spacingAndGlyphs">00</tspan></text>
<text fill="#c0c0c0"><tspan x="593.6" y="144.0" font-size="12.5" textLength="6.1" lengthAdjust="spacingAndGlyphs">8</tspan><tspan x="600.6" y="144.0" font-size="12.5" textLength="6.1" lengthAdjust="spacingAndGlyphs">5</tspan><tspan x="607.6" y="142.0" font-size="10" textLength="12.0" lengthAdjust="spacingAndGlyphs">00</tspan></text>
<text fill="#c0c0c0"><tspan x="593.6" y="187.0" font-size="12.5" textLength="6.1" lengthAdjust="spacingAndGlyphs">8</tspan><tspan x="600.6" y="187.0" font-size="12.5" textLength="6.1" lengthAdjust="spacingAndGlyphs">0</tspan><tspan x="607.6" y="185.0" font-size="10" textLength="12.0" lengthAdjust="spacingAndGlyphs">00</tspan></text>
<text fill="#c0c0c0"><tspan x="593.6" y="230.0" font-size="12.5" textLength="6.1" lengthAdjust="spacingAndGlyphs">7</tspan><tspan x="600.6" y="230.0" font-size="12.5" textLength="6.1" lengthAdjust="spacingAndGlyphs">5</tspan><tspan x="607.6" y="228.0" font-size="10" textLength="12.0" lengthAdjust="spacingAndGlyphs">00</tspan></text>
<text fill="#c0c0c0"><tspan x="593.6" y="273.0" font-size="12.5" textLength="6.1" lengthAdjust="spacingAndGlyphs">7</tspan><tspan x="600.6" y="273.0" font-size="12.5" textLength="6.1" lengthAdjust="spacingAndGlyphs">0</tspan><tspan x="607.6" y="271.0" font-size="10" textLength="12.0" lengthAdjust="spacingAndGlyphs">00</tspan></text>
<text fill="#c0c0c0"><tspan x="600.5" y="346.0" font-size="12.5" textLength="6.1" lengthAdjust="spacingAndGlyphs">2</tspan><tspan x="607.6" y="344.0" font-size="10" textLength="12.0" lengthAdjust="spacingAndGlyphs">50</tspan></text>
<text fill="#c0c0c0"><tspan x="600.5" y="368.0" font-size="12.5" textLength="6.1" lengthAdjust="spacingAndGlyphs">1</tspan><tspan x="607.6" y="366.0" font-size="10" textLength="12.0" lengthAdjust="spacingAndGlyphs">50</tspan></text>
<text fill="#c0c0c0"><tspan x="600.5" y="390.0" font-size="12.5" textLength="6.1" lengthAdjust="spacingAndGlyphs">0</tspan><tspan x="607.6" y="388.0" font-size="10" textLength="12.0" lengthAdjust="spacingAndGlyphs">50</tspan></text>
<text fill="#cc0000"><tspan x="593.5" y="59.0" font-size="11" textLength="12.2" lengthAdjust="spacingAndGlyphs">94</tspan><tspan x="605.8" y="58.0" font-size="10" textLength="10.6" lengthAdjust="spacingAndGlyphs">32</tspan></text>
<text fill="#009900"><tspan x="569.6" y="130.0" font-size="11" textLength="12.2" lengthAdjust="spacingAndGlyphs">86</tspan><tspan x="582.7" y="129.0" font-size="10" textLength="9.9" lengthAdjust="spacingAndGlyphs">08</tspan></text>
<text x="0.6" y="8" font-size="10" textLength="22.8" lengthAdjust="spacingAndGlyphs" fill="#00cc00">MA20</text>
<rect x="25" y="4" width="9" height="1" fill="#00cc00"/>
<text fill="#c0c0c0"><tspan x="40.4" y="8.0" font-size="10" textLength="5.8" lengthAdjust="spacingAndGlyphs">B</tspan><tspan x="47.0" y="8.0" font-size="10" textLength="24.2" lengthAdjust="spacingAndGlyphs">Bands</tspan></text>
<rect x="72" y="4" width="9" height="1" fill="#c0c0c0"/>
<text x="448.6" y="8" font-size="10" textLength="125.6" font-style="italic" fill="#000">© TEC 9/11/2025 4:0 GMT</text>
<text x="2.4" y="331" font-size="10" textLength="29.4" lengthAdjust="spacingAndGlyphs" fill="#000">MACD</text>
</svg></body></html>
